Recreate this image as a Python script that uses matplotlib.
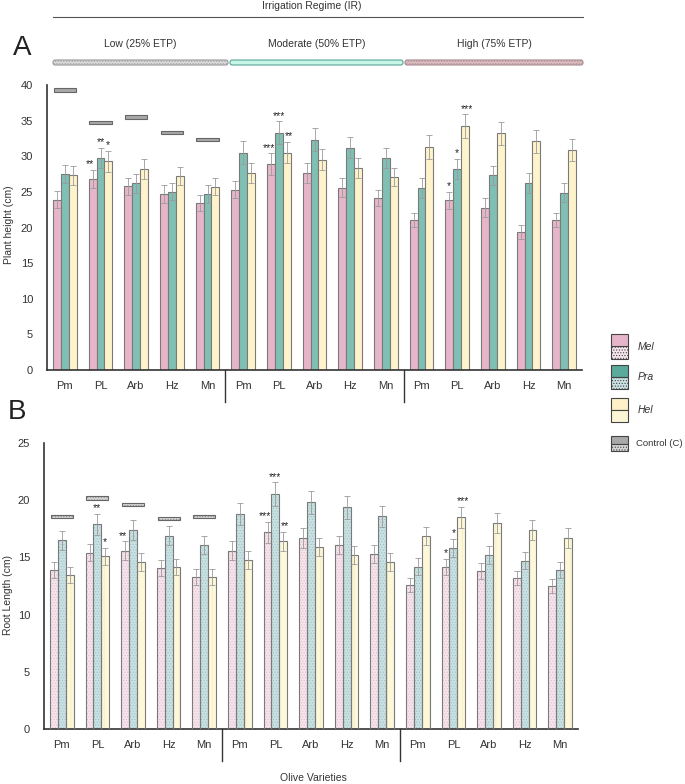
import matplotlib.pyplot as plt
import numpy as np
from matplotlib.patches import Rectangle, FancyBboxPatch

plt.rcParams['font.family'] = ['Liberation Sans', 'DejaVu Sans']
plt.rcParams['hatch.linewidth'] = 0.5

varieties = ["Pm", "PL", "Arb", "Hz", "Mn"] * 3
regimes = ["Low (25% ETP)", "Moderate (50% ETP)", "High (75% ETP)"]

# Plant height (cm)
A_mel = [23.9, 26.8, 25.8, 24.7, 23.4, 25.3, 28.9, 27.7, 25.6, 24.1, 21.0, 23.8, 22.8, 19.4, 21.0]
A_pra = [27.5, 29.8, 26.2, 25.0, 24.7, 30.5, 33.3, 32.3, 31.2, 29.7, 25.6, 28.2, 27.3, 26.3, 24.9]
A_hel = [27.3, 29.3, 28.2, 27.2, 25.7, 27.6, 30.5, 29.5, 28.4, 27.1, 31.3, 34.2, 33.2, 32.1, 30.9]
A_mel_err = [1.2, 1.3, 1.2, 1.2, 1.1, 1.2, 1.5, 1.4, 1.3, 1.1, 1.0, 1.2, 1.3, 1.0, 1.0]
A_pra_err = [1.3, 1.4, 1.3, 1.2, 1.2, 1.6, 1.6, 1.6, 1.5, 1.4, 1.4, 1.4, 1.4, 1.4, 1.3]
A_hel_err = [1.3, 1.5, 1.4, 1.3, 1.2, 1.4, 1.5, 1.5, 1.4, 1.3, 1.7, 1.7, 1.6, 1.6, 1.5]
A_ctrl = [39.3, 34.7, 35.5, 33.3, 32.3]

# Root length (cm)
B_mel = [13.9, 15.4, 15.6, 14.1, 13.3, 15.6, 17.2, 16.7, 16.1, 15.3, 12.6, 14.2, 13.8, 13.2, 12.5]
B_pra = [16.5, 17.9, 17.4, 16.9, 16.1, 18.8, 20.5, 19.8, 19.4, 18.6, 14.2, 15.8, 15.2, 14.7, 13.9]
B_hel = [13.5, 15.1, 14.6, 14.2, 13.3, 14.8, 16.4, 15.9, 15.2, 14.6, 16.9, 18.5, 18.0, 17.4, 16.7]
B_mel_err = [0.7, 0.75, 0.8, 0.7, 0.7, 0.8, 0.9, 0.85, 0.8, 0.75, 0.6, 0.7, 0.7, 0.65, 0.6]
B_pra_err = [0.85, 0.9, 0.9, 0.85, 0.8, 0.95, 1.05, 1.0, 1.0, 0.9, 0.75, 0.8, 0.8, 0.75, 0.7]
B_hel_err = [0.7, 0.75, 0.75, 0.7, 0.7, 0.8, 0.85, 0.8, 0.8, 0.75, 0.8, 0.9, 0.9, 0.85, 0.85]
B_ctrl = [18.6, 20.2, 19.6, 18.4, 18.6]

# significance marks: (group, series, text)
A_stars = [(1, 0, "**"), (1, 1, "**"), (1, 2, "*"),
           (6, 0, "***"), (6, 1, "***"), (6, 2, "**"),
           (11, 0, "*"), (11, 1, "*"), (11, 2, "***")]
B_stars = [(1, 1, "**"), (1, 2, "*"), (2, 0, "**"),
           (6, 0, "***"), (6, 1, "***"), (6, 2, "**"),
           (11, 0, "*"), (11, 1, "*"), (11, 2, "***")]

edge = "#7a7a7a"
W = 0.22

fig = plt.figure(figsize=(6.85, 7.84), dpi=100)
axA = fig.add_axes([47 / 685, 1 - 370 / 784, 535 / 685, 285 / 784])
axB = fig.add_axes([44 / 685, 1 - 729 / 784, 534 / 685, 286 / 784])


def hbar(ax, x, h, face, hatch, hcol):
    if hatch:
        ax.bar(x, h, W, color=face, hatch=hatch, edgecolor=hcol, linewidth=0, zorder=2)
        ax.bar(x, h, W, fill=False, edgecolor=edge, linewidth=0.8, zorder=3)
    else:
        ax.bar(x, h, W, color=face, edgecolor=edge, linewidth=0.8, zorder=2)


def panel(ax, series, errs, ctrl, stars, ymax, faces, hatches, hcols, ctrl_style):
    x = np.arange(15) + 0.5
    offs = [-W, 0, W]
    for s in range(3):
        hbar(ax, x + offs[s], series[s], faces[s], hatches[s], hcols[s])
        ax.errorbar(x + offs[s], series[s], yerr=errs[s], fmt="none", ecolor="#9a9a9a",
                    elinewidth=0.6, capsize=2, capthick=0.6, zorder=4)
    cx = np.arange(5) + 0.5
    th, face, hatch, hcol = ctrl_style
    bottom = np.array(ctrl) - th / 2
    if hatch:
        ax.bar(cx, th, 0.62, bottom=bottom, color=face, hatch=hatch,
               edgecolor=hcol, linewidth=0, zorder=2)
        ax.bar(cx, th, 0.62, bottom=bottom, fill=False,
               edgecolor="#666666", linewidth=0.8, zorder=3)
    else:
        ax.bar(cx, th, 0.62, bottom=bottom, color=face,
               edgecolor="#666666", linewidth=0.8, zorder=2)
    nudge = [-0.07, 0, 0.05]
    for g, s, t in stars:
        ax.text(x[g] + offs[s] + (nudge[s] if len(t) > 1 else 0),
                series[s][g] + errs[s][g] + ymax * 0.002, t,
                ha="center", va="bottom", fontsize=7.5, color="#222222")
    ax.set_xlim(0, 15)
    ax.set_ylim(0, ymax)
    ax.set_yticks(np.arange(0, ymax + 1, 5))
    ax.set_xticks(x)
    ax.set_xticklabels(varieties)
    ax.tick_params(length=0, labelsize=8, colors="#333333", pad=8)
    ax.tick_params(axis="y", pad=10)
    for sp in ["top", "right"]:
        ax.spines[sp].set_visible(False)
    for sp in ["left", "bottom"]:
        ax.spines[sp].set_color("#333333")
        ax.spines[sp].set_linewidth(1.2)
    for b in [5, 10]:
        ax.plot([b, b], [0, -ymax * 0.112], color="#333333", lw=1.0, clip_on=False)


panel(axA, [A_mel, A_pra, A_hel], [A_mel_err, A_pra_err, A_hel_err], A_ctrl, A_stars, 40,
      ["#e7b5c9", "#80c0b4", "#fff3cb"], [None, None, None], [None] * 3,
      (0.45, "#a9a9a9", None, None))
panel(axB, [B_mel, B_pra, B_hel], [B_mel_err, B_pra_err, B_hel_err], B_ctrl, B_stars, 25,
      ["#f6e4ec", "#c9e1e2", "#fdf8da"], ["......", "......", "||"],
      ["#e2bfd0", "#9fc2c4", "#f3ecc4"],
      (0.3, "#d4d4d4", "......", "#8a8a8a"))

fig.text(9 / 685, 1 - 225 / 784, "Plant height (cm)", rotation=90, ha="center",
         va="center", fontsize=7.5, color="#333333")
fig.text(8 / 685, 1 - 595 / 784, "Root Length (cm)", rotation=90, ha="center",
         va="center", fontsize=7.5, color="#333333")

# header
fig.text(312 / 685, 1 - 6 / 784, "Irrigation Regime (IR)", ha="center", va="center",
         fontsize=7.5, color="#333333")
fig.add_artist(plt.Line2D([53 / 685, 583 / 685], [1 - 17 / 784, 1 - 17 / 784],
                          color="#555555", lw=0.8))
fig.text(22 / 685, 1 - 48 / 784, "A", ha="center", va="center", fontsize=20, color="#222222")
fig.text(17 / 685, 1 - 412 / 784, "B", ha="center", va="center", fontsize=20, color="#222222")
reg_x = [(53, 228), (230, 403), (405, 583)]
reg_face = ["#dadada", "#c6f6e6", "#dcbcc0"]
reg_edge = ["#9a9a9a", "#5aa596", "#a88a8e"]
reg_hatch = ["......", None, "......"]
for (x0, x1), name, fc, ec, ht in zip(reg_x, regimes, reg_face, reg_edge, reg_hatch):
    fig.text((x0 + x1) / 2 / 685, 1 - 44 / 784, name, ha="center", va="center",
             fontsize=7.5, color="#333333")
    p = FancyBboxPatch((x0 / 685, 1 - 65 / 784), (x1 - x0) / 685, 5 / 784,
                       boxstyle="round,pad=0,rounding_size=0.003", transform=fig.transFigure,
                       facecolor=fc, edgecolor=ec, linewidth=0.8, hatch=ht)
    fig.add_artist(p)

# legend
leg = [("Mel", "#e7b5c9", "#f6e4ec", 334, 25, "italic", 638, 7.5),
       ("Pra", "#5aab9c", "#c9e1e2", 365, 24, "italic", 638, 7.5),
       ("Hel", "#fff0c8", "#fdf6d6", 398, 24, "italic", 638, 7.5),
       ("Control (C)", "#a9a9a9", "#d4d4d4", 436, 15, "normal", 636, 6.8)]
for name, top, bot, y0, h, style, tx, fs in leg:
    xl, wl = 611 / 685, 17 / 685
    fig.add_artist(Rectangle((xl, 1 - (y0 + h / 2) / 784), wl, h / 2 / 784,
                             transform=fig.transFigure, facecolor=top,
                             edgecolor="#444444", lw=0.8))
    fig.add_artist(Rectangle((xl, 1 - (y0 + h) / 784), wl, h / 2 / 784,
                             transform=fig.transFigure, facecolor=bot,
                             edgecolor="#444444", lw=0.8,
                             hatch=None if name == "Hel" else "......"))
    fig.text(tx / 685, 1 - (y0 + h / 2) / 784, name,
             ha="left", va="center", fontsize=fs, style=style, color="#333333")

fig.text(313 / 685, 1 - 778 / 784, "Olive Varieties", ha="center", va="center",
         fontsize=7.5, color="#333333")

fig.savefig("out.png", dpi=100)
